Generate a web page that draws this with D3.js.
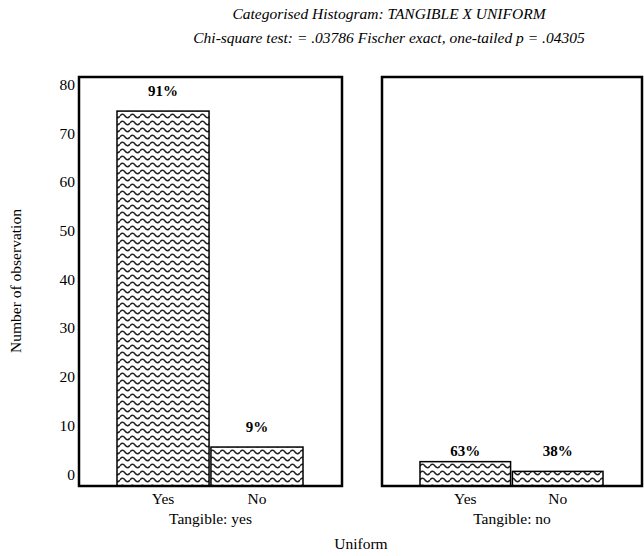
<!DOCTYPE html>
<html>
<head>
    <style>
        body { margin: 0; background: #fff; }
        svg text { font-family: "Liberation Serif", "Times New Roman", serif; fill: #000; }
        .title { font-size: 15.5px; font-style: italic; text-anchor: middle; }
        .pct { font-size: 15px; font-weight: bold; text-anchor: middle; }
    </style>
    <script src="https://d3js.org/d3.v7.min.js"></script>
</head>
<body>
<svg width="644" height="556"></svg>
<script>
    // data
    var categories = ["Yes", "No"];
    var panels = ["Tangible: yes", "Tangible: no"];
    var tangibleYes = [77, 8];
    var tangibleNo = [5, 3];
    var yTicks = [0, 10, 20, 30, 40, 50, 60, 70, 80];
    var titleLines = ["Categorised Histogram: TANGIBLE X UNIFORM",
                      "Chi-square test: = .03786 Fischer exact, one-tailed p = .04305"];
    var xTitle = "Uniform";
    var yTitle = "Number of observation";

    var series = [tangibleYes, tangibleNo];

    var svg = d3.select("svg");
    var plotTop = 77, plotBottom = 486;
    var frames = [[79, 342], [382, 642]];

    var y = d3.scaleLinear().domain([0, 84]).range([plotBottom, plotTop]);

    // wavy hatch
    var defs = svg.append("defs");
    var pat = defs.append("pattern")
        .attr("id", "wave")
        .attr("patternUnits", "userSpaceOnUse")
        .attr("width", 10).attr("height", 7);
    pat.append("rect").attr("width", 10).attr("height", 7).attr("fill", "#fff");
    pat.append("path")
        .attr("d", "M0,4 Q2.5,0.5 5,4 T10,4")
        .attr("fill", "none")
        .attr("stroke", "#222")
        .attr("stroke-width", 1.5);

    // titles
    svg.selectAll(".title").data(titleLines).enter().append("text")
        .attr("class", "title")
        .attr("x", 389)
        .attr("y", function(d, i) { return 19 + i * 24; })
        .text(function(d) { return d; });

    // y axis labels
    var yAxis = svg.append("g")
        .attr("transform", "translate(75,0)")
        .call(d3.axisLeft(y).tickValues(yTicks).tickSize(0).tickPadding(0));
    yAxis.select(".domain").remove();
    yAxis.selectAll("text")
        .attr("dy", null)
        .attr("y", -7)
        .style("font-size", "15.5px")
        .style("font-family", "'Liberation Serif', serif");

    panels.forEach(function(name, p) {
        var fx = frames[p];
        var vals = series[p];
        var total = d3.sum(vals);
        var x = d3.scaleBand().domain(categories)
            .range([fx[0] + 38, fx[1] - 39])
            .paddingInner(0.02);

        var g = svg.append("g");

        g.selectAll("rect.bar").data(vals).enter().append("rect")
            .attr("class", "bar")
            .attr("x", function(d, i) { return x(categories[i]); })
            .attr("y", function(d) { return y(d); })
            .attr("width", x.bandwidth())
            .attr("height", function(d) { return y(0) - y(d); })
            .attr("fill", "url(#wave)")
            .attr("stroke", "#000")
            .attr("stroke-width", 1.5);

        // when all bars are short the labels share one line
        var lowPanel = d3.max(vals) < 10;
        g.selectAll("text.pct").data(vals).enter().append("text")
            .attr("class", "pct")
            .attr("x", function(d, i) { return x(categories[i]) + x.bandwidth() / 2; })
            .attr("y", function(d) { return (lowPanel ? y(d3.min(vals)) : y(d)) - 15; })
            .text(function(d) { return Math.round(d / total * 100) + "%"; });

        // frame
        g.append("rect")
            .attr("x", fx[0]).attr("y", plotTop)
            .attr("width", fx[1] - fx[0]).attr("height", plotBottom - plotTop)
            .attr("fill", "none")
            .attr("stroke", "#000")
            .attr("stroke-width", 2.5);

        // category labels
        var xAxis = g.append("g")
            .attr("transform", "translate(0," + plotBottom + ")")
            .call(d3.axisBottom(x).tickSize(0).tickPadding(0));
        xAxis.select(".domain").remove();
        xAxis.selectAll("text")
            .attr("dy", null)
            .attr("y", 18)
            .style("font-size", "15.5px")
            .style("font-family", "'Liberation Serif', serif");

        g.append("text")
            .attr("x", (fx[0] + fx[1]) / 2)
            .attr("y", 524)
            .attr("text-anchor", "middle")
            .style("font-size", "15.5px")
            .text(name);
    });

    svg.append("text")
        .attr("x", 361).attr("y", 549)
        .attr("text-anchor", "middle")
        .style("font-size", "15.5px")
        .text(xTitle);

    svg.append("text")
        .attr("transform", "translate(21,281) rotate(-90)")
        .attr("text-anchor", "middle")
        .style("font-size", "15.5px")
        .text(yTitle);
</script>
</body>
</html>
